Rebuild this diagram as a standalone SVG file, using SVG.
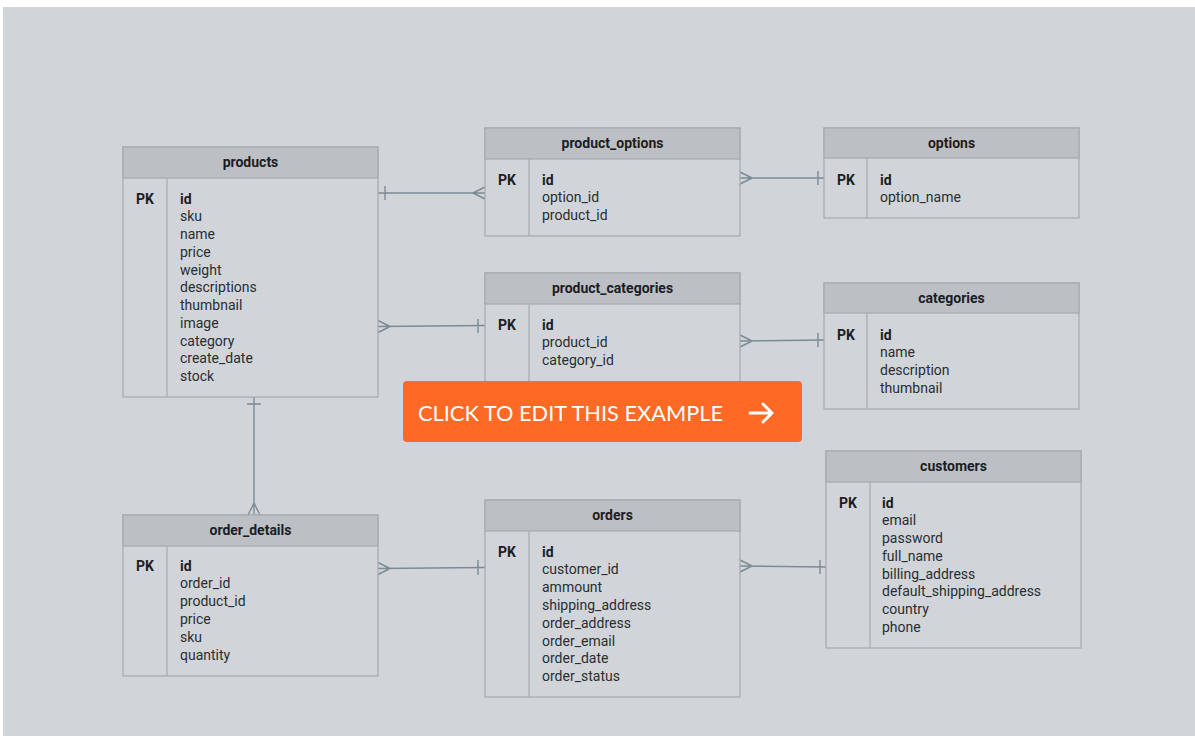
<svg xmlns="http://www.w3.org/2000/svg" width="1195" height="736" viewBox="0 0 1195 736">
<defs>
<style>
.bg{fill:#d1d5da}
.body{fill:#d1d5da;stroke:#a6abb0;stroke-width:1.2}
.hdr{fill:#bcc0c5;stroke:#a6abb0;stroke-width:1.2}
.div{stroke:#a6abb0;stroke-width:1.2}
.t{font-family:Roboto,"Liberation Sans",sans-serif;font-size:14px;fill:#2b2d30}
.b{font-weight:bold;fill:#1c1d1f}
.h{font-family:Roboto,"Liberation Sans",sans-serif;font-size:14px;font-weight:bold;fill:#1c1d1f;text-anchor:middle}
.c{stroke:#7b8b95;stroke-width:1.4;fill:none}
.btn{font-family:Lato,"Open Sans",sans-serif;font-size:21.8px;fill:#ffffff}
</style>
</defs>
<rect x="0" y="0" width="1195" height="736" fill="#ffffff"/>
<rect class="bg" x="3" y="7" width="1192" height="729"/>

<g id="connectors">
<path class="c" d="M378 193 H485 M385 186 V200 M473 193 L485 187 M473 193 L485 199"/>
<path class="c" d="M740 178 H824 M818 171 V185 M752 178 L740 172 M752 178 L740 184"/>
<path class="c" d="M378 326.5 L485 325.5 M478 319 V333 M390 326.5 L378 320.5 M390 326.5 L378 332.5"/>
<path class="c" d="M740 341 L824 340 M818 333 V347 M752 341 L740 335 M752 341 L740 347"/>
<path class="c" d="M254 397 V515 M247 404 H261 M254 503 L248 515 M254 503 L260 515"/>
<path class="c" d="M378 568.5 L485 567.5 M478 560 V575 M390 568.5 L378 562.5 M390 568.5 L378 574.5"/>
<path class="c" d="M740 566 L826 567 M820 560 V574 M752 566 L740 560 M752 566 L740 572"/>
</g>

<g id="products">
<rect class="body" x="123" y="147" width="255" height="250"/>
<rect class="hdr" x="123" y="147" width="255" height="31"/>
<line class="div" x1="167" y1="178" x2="167" y2="397"/>
<text class="h" x="250.5" y="167">products</text>
<text class="t b" x="136" y="203.5">PK</text>
<text class="t" x="180" y="203.5"><tspan class="b">id</tspan><tspan x="180" dy="17.75">sku</tspan><tspan x="180" dy="17.75">name</tspan><tspan x="180" dy="17.75">price</tspan><tspan x="180" dy="17.75">weight</tspan><tspan x="180" dy="17.75">descriptions</tspan><tspan x="180" dy="17.75">thumbnail</tspan><tspan x="180" dy="17.75">image</tspan><tspan x="180" dy="17.75">category</tspan><tspan x="180" dy="17.75">create_date</tspan><tspan x="180" dy="17.75">stock</tspan></text>
</g>

<g id="product_options">
<rect class="body" x="485" y="128" width="255" height="108"/>
<rect class="hdr" x="485" y="128" width="255" height="31"/>
<line class="div" x1="529" y1="159" x2="529" y2="236"/>
<text class="h" x="612.5" y="148">product_options</text>
<text class="t b" x="498" y="184.5">PK</text>
<text class="t" x="542" y="184.5"><tspan class="b">id</tspan><tspan x="542" dy="17.75">option_id</tspan><tspan x="542" dy="17.75">product_id</tspan></text>
</g>

<g id="options">
<rect class="body" x="824" y="128" width="255" height="90"/>
<rect class="hdr" x="824" y="128" width="255" height="30"/>
<line class="div" x1="867" y1="158" x2="867" y2="218"/>
<text class="h" x="951.5" y="148">options</text>
<text class="t b" x="837" y="184.5">PK</text>
<text class="t" x="880" y="184.5"><tspan class="b">id</tspan><tspan x="880" dy="17.75">option_name</tspan></text>
</g>

<g id="product_categories">
<rect class="body" x="485" y="273" width="255" height="124"/>
<rect class="hdr" x="485" y="273" width="255" height="31"/>
<line class="div" x1="529" y1="304" x2="529" y2="397"/>
<text class="h" x="612.5" y="293">product_categories</text>
<text class="t b" x="498" y="329.5">PK</text>
<text class="t" x="542" y="329.5"><tspan class="b">id</tspan><tspan x="542" dy="17.75">product_id</tspan><tspan x="542" dy="17.75">category_id</tspan></text>
</g>

<g id="categories">
<rect class="body" x="824" y="283" width="255" height="126"/>
<rect class="hdr" x="824" y="283" width="255" height="30"/>
<line class="div" x1="867" y1="313" x2="867" y2="409"/>
<text class="h" x="951.5" y="303">categories</text>
<text class="t b" x="837" y="339.5">PK</text>
<text class="t" x="880" y="339.5"><tspan class="b">id</tspan><tspan x="880" dy="17.75">name</tspan><tspan x="880" dy="17.75">description</tspan><tspan x="880" dy="17.75">thumbnail</tspan></text>
</g>

<g id="customers">
<rect class="body" x="826" y="451" width="255" height="197"/>
<rect class="hdr" x="826" y="451" width="255" height="31"/>
<line class="div" x1="870" y1="482" x2="870" y2="648"/>
<text class="h" x="953.5" y="471">customers</text>
<text class="t b" x="839" y="507.5">PK</text>
<text class="t" x="882" y="507.5"><tspan class="b">id</tspan><tspan x="882" dy="17.75">email</tspan><tspan x="882" dy="17.75">password</tspan><tspan x="882" dy="17.75">full_name</tspan><tspan x="882" dy="17.75">billing_address</tspan><tspan x="882" dy="17.75">default_shipping_address</tspan><tspan x="882" dy="17.75">country</tspan><tspan x="882" dy="17.75">phone</tspan></text>
</g>

<g id="orders">
<rect class="body" x="485" y="500" width="255" height="197"/>
<rect class="hdr" x="485" y="500" width="255" height="31"/>
<line class="div" x1="529" y1="531" x2="529" y2="697"/>
<text class="h" x="612.5" y="520">orders</text>
<text class="t b" x="498" y="556.5">PK</text>
<text class="t" x="542" y="556.5"><tspan class="b">id</tspan><tspan x="542" dy="17.8">customer_id</tspan><tspan x="542" dy="17.8">ammount</tspan><tspan x="542" dy="17.8">shipping_address</tspan><tspan x="542" dy="17.8">order_address</tspan><tspan x="542" dy="17.8">order_email</tspan><tspan x="542" dy="17.8">order_date</tspan><tspan x="542" dy="17.8">order_status</tspan></text>
</g>

<g id="order_details">
<rect class="body" x="123" y="515" width="255" height="161"/>
<rect class="hdr" x="123" y="515" width="255" height="31"/>
<line class="div" x1="167" y1="546" x2="167" y2="676"/>
<text class="h" x="250.5" y="535">order_details</text>
<text class="t b" x="136" y="570.5">PK</text>
<text class="t" x="180" y="570.5"><tspan class="b">id</tspan><tspan x="180" dy="17.8">order_id</tspan><tspan x="180" dy="17.8">product_id</tspan><tspan x="180" dy="17.8">price</tspan><tspan x="180" dy="17.8">sku</tspan><tspan x="180" dy="17.8">quantity</tspan></text>
</g>

<g id="edit_button">
<rect x="403" y="381" width="399" height="61" rx="4" fill="#fe6a26"/>
<text class="btn" x="418" y="421">CLICK TO EDIT THIS EXAMPLE</text>
<path d="M750 413 H772 M763 404 L772 413 L763 422" stroke="#ffffff" stroke-width="3" fill="none" stroke-linecap="round" stroke-linejoin="round"/>
</g>
</svg>
